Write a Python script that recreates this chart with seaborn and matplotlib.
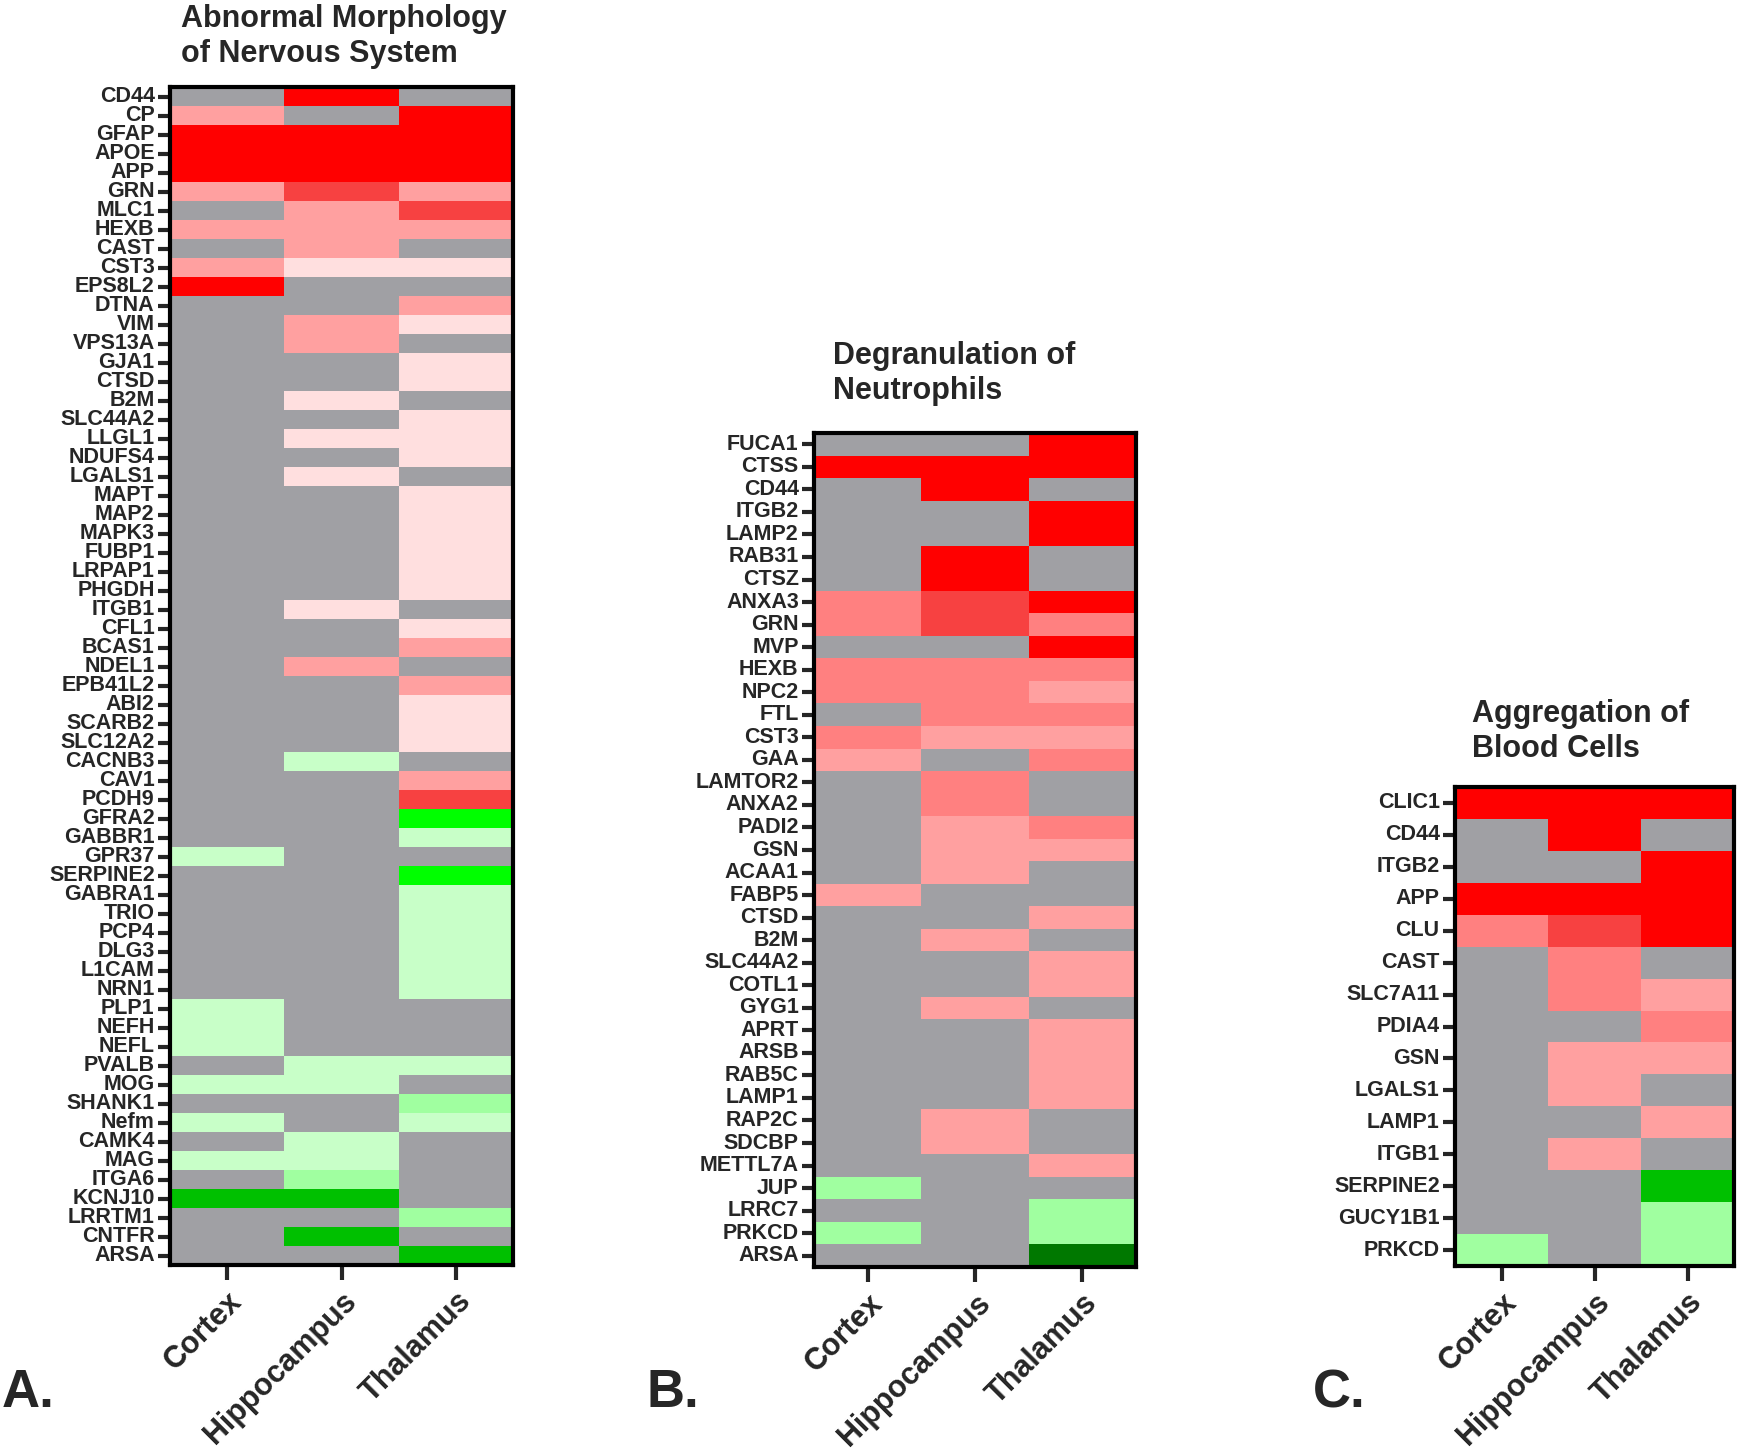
import numpy as np
import pandas as pd
import matplotlib
matplotlib.use("Agg")
import matplotlib.pyplot as plt
from matplotlib.colors import ListedColormap
import seaborn as sns

# regions (columns of every heatmap)
regions = ['Cortex', 'Hippocampus', 'Thalamus']

# change level per gene: 5 strong up ... 0 not changed ... -5 strong down
# A. Abnormal Morphology of Nervous System
genes_a = ['CD44', 'CP', 'GFAP', 'APOE', 'APP', 'GRN', 'MLC1', 'HEXB', 'CAST', 'CST3',
           'EPS8L2', 'DTNA', 'VIM', 'VPS13A', 'GJA1', 'CTSD', 'B2M', 'SLC44A2', 'LLGL1',
           'NDUFS4', 'LGALS1', 'MAPT', 'MAP2', 'MAPK3', 'FUBP1', 'LRPAP1', 'PHGDH', 'ITGB1',
           'CFL1', 'BCAS1', 'NDEL1', 'EPB41L2', 'ABI2', 'SCARB2', 'SLC12A2', 'CACNB3', 'CAV1',
           'PCDH9', 'GFRA2', 'GABBR1', 'GPR37', 'SERPINE2', 'GABRA1', 'TRIO', 'PCP4', 'DLG3',
           'L1CAM', 'NRN1', 'PLP1', 'NEFH', 'NEFL', 'PVALB', 'MOG', 'SHANK1', 'Nefm', 'CAMK4',
           'MAG', 'ITGA6', 'KCNJ10', 'LRRTM1', 'CNTFR', 'ARSA']
cortex_a = [0, 2, 5, 5, 5, 2, 0, 2, 0, 2, 5, 0, 0, 0, 0, 0, 0, 0, 0, 0, 0, 0, 0, 0, 0, 0, 0, 0,
            0, 0, 0, 0, 0, 0, 0, 0, 0, 0, 0, 0, -1, 0, 0, 0, 0, 0, 0, 0, -1, -1, -1, 0, -1, 0,
            -1, 0, -1, 0, -4, 0, 0, 0]
hippo_a = [5, 0, 5, 5, 5, 4, 2, 2, 2, 1, 0, 0, 2, 2, 0, 0, 1, 0, 1, 0, 1, 0, 0, 0, 0, 0, 0, 1,
           0, 0, 2, 0, 0, 0, 0, -1, 0, 0, 0, 0, 0, 0, 0, 0, 0, 0, 0, 0, 0, 0, 0, -1, -1, 0,
           0, -1, -1, -2, -4, 0, -4, 0]
thal_a = [0, 5, 5, 5, 5, 2, 4, 2, 0, 1, 0, 2, 1, 0, 1, 1, 0, 1, 1, 1, 0, 1, 1, 1, 1, 1, 1, 0,
          1, 2, 0, 2, 1, 1, 1, 0, 2, 4, -3, -1, 0, -3, -1, -1, -1, -1, -1, -1, 0, 0, 0, -1, 0,
          -2, -1, 0, 0, 0, 0, -2, 0, -4]

# B. Degranulation of Neutrophils
genes_b = ['FUCA1', 'CTSS', 'CD44', 'ITGB2', 'LAMP2', 'RAB31', 'CTSZ', 'ANXA3', 'GRN', 'MVP',
           'HEXB', 'NPC2', 'FTL', 'CST3', 'GAA', 'LAMTOR2', 'ANXA2', 'PADI2', 'GSN', 'ACAA1',
           'FABP5', 'CTSD', 'B2M', 'SLC44A2', 'COTL1', 'GYG1', 'APRT', 'ARSB', 'RAB5C', 'LAMP1',
           'RAP2C', 'SDCBP', 'METTL7A', 'JUP', 'LRRC7', 'PRKCD', 'ARSA']
cortex_b = [0, 5, 0, 0, 0, 0, 0, 3, 3, 0, 3, 3, 0, 3, 2, 0, 0, 0, 0, 0, 2, 0, 0, 0, 0, 0, 0,
            0, 0, 0, 0, 0, 0, -2, 0, -2, 0]
hippo_b = [0, 5, 5, 0, 0, 5, 5, 4, 4, 0, 3, 3, 3, 2, 0, 3, 3, 2, 2, 2, 0, 0, 2, 0, 0, 2, 0,
           0, 0, 0, 2, 2, 0, 0, 0, 0, 0]
thal_b = [5, 5, 0, 5, 5, 0, 0, 5, 3, 5, 3, 2, 3, 2, 3, 0, 0, 3, 2, 0, 0, 2, 0, 2, 2, 0, 2,
          2, 2, 2, 0, 0, 2, 0, -2, -2, -5]

# C. Aggregation of Blood Cells
genes_c = ['CLIC1', 'CD44', 'ITGB2', 'APP', 'CLU', 'CAST', 'SLC7A11', 'PDIA4', 'GSN', 'LGALS1',
           'LAMP1', 'ITGB1', 'SERPINE2', 'GUCY1B1', 'PRKCD']
cortex_c = [5, 0, 0, 5, 3, 0, 0, 0, 0, 0, 0, 0, 0, 0, -2]
hippo_c = [5, 5, 0, 5, 4, 3, 3, 0, 2, 2, 0, 2, 0, 0, 0]
thal_c = [5, 0, 5, 5, 5, 0, 2, 3, 2, 0, 2, 0, -4, -2, -2]

titles = ['Abnormal Morphology\nof Nervous System', 'Degranulation of\nNeutrophils',
          'Aggregation of\nBlood Cells']
letters = ['A.', 'B.', 'C.']

# one colour per level, -5 .. 5
level_colors = ['#007800', '#00C000', '#00FF00', '#A0FFA0', '#C8FFC8', '#A0A0A4',
                '#FFDFDF', '#FFA0A0', '#FF8080', '#F74141', '#FF0000']
cmap = ListedColormap(level_colors)

sns.set_style("ticks")
plt.rcParams['font.family'] = ['Liberation Sans', 'DejaVu Sans']
plt.rcParams['font.weight'] = 'bold'

W, H = 1739, 1452
fig = plt.figure(figsize=(W / 100, H / 100), dpi=100)

def px_rect(x0, y0, x1, y1):
    return [x0 / W, 1 - y1 / H, (x1 - x0) / W, (y1 - y0) / H]

panels = [
    (genes_a, cortex_a, hippo_a, thal_a, px_rect(170, 87, 513, 1265), (181, 4), (2, 1407)),
    (genes_b, cortex_b, hippo_b, thal_b, px_rect(814, 433, 1136, 1267), (833, 341), (646, 1407)),
    (genes_c, cortex_c, hippo_c, thal_c, px_rect(1455, 787, 1734, 1266), (1472, 699), (1313, 1407)),
]

for i, (genes, c1, c2, c3, rect, tpos, lpos) in enumerate(panels):
    df = pd.DataFrame({'Cortex': c1, 'Hippocampus': c2, 'Thalamus': c3}, index=genes)
    ax = fig.add_axes(rect)
    sns.heatmap(df, ax=ax, cmap=cmap, vmin=-5.5, vmax=5.5, cbar=False,
                xticklabels=regions, yticklabels=genes)
    for s in ax.spines.values():
        s.set_visible(True)
        s.set_linewidth(3)
        s.set_color('black')
    ax.tick_params(axis='y', length=9, width=3, labelsize=15.5, pad=2)
    ax.tick_params(axis='x', length=11, width=3, labelsize=22, pad=4)
    plt.setp(ax.get_yticklabels(), rotation=0, fontweight='bold')
    plt.setp(ax.get_xticklabels(), rotation=45, ha='right', rotation_mode='anchor',
             fontweight='bold')
    ax.set_xlabel('')
    ax.set_ylabel('')
    fig.text(tpos[0] / W, 1 - tpos[1] / H, titles[i], fontsize=22, fontweight='bold',
             ha='left', va='top', linespacing=1.2)
    fig.text(lpos[0] / W, 1 - lpos[1] / H, letters[i], fontsize=38, fontweight='bold',
             ha='left', va='baseline')

fig.savefig('out.png', dpi=100, facecolor='white')
